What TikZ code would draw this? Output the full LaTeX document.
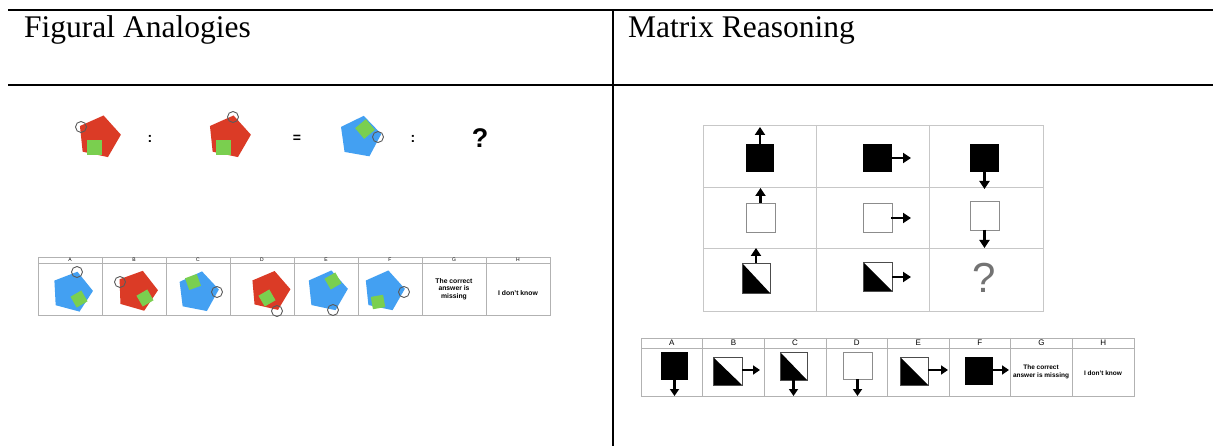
\documentclass[tikz,border=0pt]{standalone}
\usepackage{fontspec}
\setmainfont{Liberation Serif}
\setsansfont{Liberation Sans}
\usetikzlibrary{calc,arrows.meta}
\definecolor{pred}{HTML}{DB3B26}
\definecolor{pblue}{HTML}{43A0F2}
\definecolor{pgreen}{HTML}{7ACF4F}
\definecolor{ringc}{HTML}{5A5A5A}
\tikzset{
  rule/.style={line width=2pt, black},
  mgrid/.style={draw=black!22, line width=0.9pt},
  sgrid/.style={draw=black!30, line width=0.7pt},
  arr/.style={line width=2.3pt, -{Triangle[width=10pt,length=8pt]}},
  sarr/.style={line width=2.2pt, -{Triangle[width=9pt,length=7pt]}},
  blk/.style={fill=black},
  wht/.style={draw=black!45, line width=0.9pt, fill=white},
  dia/.style={draw=black!70, line width=0.8pt},
  ring/.style={draw=ringc, line width=0.9pt},
  hdr/.style={anchor=base west, inner sep=0pt, font=\fontsize{31.5}{36}\selectfont},
  lab/.style={inner sep=0pt, font=\sffamily\fontsize{5}{6}\selectfont},
  rlab/.style={inner sep=0pt, font=\sffamily\fontsize{8}{9}\selectfont},
  opt/.style={inner sep=0pt, align=center, font=\sffamily\bfseries\fontsize{6.8}{7.6}\selectfont},
  ropt/.style={inner sep=0pt, align=center, font=\sffamily\bfseries\fontsize{6.5}{7.4}\selectfont},
  sym/.style={inner sep=0pt, font=\sffamily\bfseries\fontsize{14}{16}\selectfont},
}
\newcommand\pent[5]{%
  \fill[#4] ($(#1,#2)+(-#3:#5)$) -- ($(#1,#2)+(-#3-72:#5)$) -- ($(#1,#2)+(-#3-144:#5)$)
    -- ($(#1,#2)+(-#3-216:#5)$) -- ($(#1,#2)+(-#3-288:#5)$) -- cycle;}
\newcommand\sqg[4]{%
  \fill[pgreen, rotate around={#3:(#1,#2)}] (#1-#4/2,#2-#4/2) rectangle (#1+#4/2,#2+#4/2);}
\newcommand\ringat[2]{\draw[ring] (#1,#2) circle (5.5);}
\newcommand\diagsq[4]{\fill[black] (#1,#2) -- (#1,#4) -- (#3,#4) -- cycle;
  \draw[dia] (#1,#2) rectangle (#3,#4);}
\begin{document}
\begin{tikzpicture}[x=1pt,y=-1pt]
\useasboundingbox (0,0) rectangle (1213,446);
% table rules
\draw[rule] (8,10) -- (1213,10);
\draw[rule] (8,85) -- (1213,85);
\draw[rule] (613,10) -- (613,446);
\node[hdr] (h1) at (24,38) {Figural Analogies};
\node[hdr] (h2) at (628,38) {Matrix Reasoning};

% ---- Figural analogies: item
\pent{99}{137}{78}{pred}{22}\sqg{94.5}{148}{0}{15}\ringat{81}{127}
\node[sym] (c1) at (150,139) {:};
\pent{229}{137}{78}{pred}{22}\sqg{223.5}{147.5}{0}{15}\ringat{233}{117}
\node[sym] (eq) at (297,139) {=};
\pent{360}{137}{80}{pblue}{21.5}\sqg{365}{129}{40}{14}\ringat{378}{137}
\node[sym] (c2) at (413,139) {:};
\node[inner sep=0pt, font=\sffamily\bfseries\fontsize{27}{30}\selectfont] (q1) at (480,138) {?};

% ---- Figural analogies: answer strip
\draw[sgrid] (38,257) rectangle (550,315);
\draw[sgrid] (38,263) -- (550,263);
\foreach \i in {1,...,7} \draw[sgrid] (38+64*\i,257) -- (38+64*\i,315);
\foreach \l [count=\i from 0] in {A,B,C,D,E,F,G,H}
  \node[lab] (la\l) at (70+64*\i,260) {\l};
\pent{72}{292}{75}{pblue}{21}\sqg{79}{299}{30}{12.5}\ringat{77}{272}
\pent{137}{291}{74}{pred}{21}\sqg{145}{298}{30}{12.5}\ringat{120}{282}
\pent{198}{292}{79}{pblue}{21}\sqg{193}{282}{20}{12.5}\ringat{217}{292}
\pent{270}{291}{77}{pred}{20.5}\sqg{267}{298}{30}{12.5}\ringat{277}{311}
\pent{327}{291}{78}{pblue}{21}\sqg{333}{281}{30}{12.5}\ringat{333}{310}
\pent{384}{291}{78}{pblue}{21}\sqg{378}{302}{10}{12.5}\ringat{404}{292}
\node[opt] (lg) at (454,289) {The correct\\answer is\\missing};
\node[opt] (lh) at (518,293) {I don't know};

% ---- Matrix reasoning: matrix
\draw[mgrid] (703,125) rectangle (1043,311);
\draw[mgrid] (816,125) -- (816,311);
\draw[mgrid] (929,125) -- (929,311);
\draw[mgrid] (703,187) -- (1043,187);
\draw[mgrid] (703,248) -- (1043,248);
% row 1
\fill[blk] (746,144) rectangle (774,172);
\draw[arr] (760,144) -- (760,127);
\fill[blk] (863,144) rectangle (892,172);
\draw[arr] (892,158) -- (911,158);
\fill[blk] (970,144) rectangle (999,172);
\draw[arr] (984.5,172) -- (984.5,189);
% row 2
\draw[wht] (746,203) rectangle (775,232);
\draw[arr] (760.5,203) -- (760.5,188);
\draw[wht] (863,203) rectangle (892,232);
\draw[arr] (891,218) -- (911,218);
\draw[wht] (970,201) rectangle (999,230);
\draw[arr] (984.5,230) -- (984.5,248);
% row 3
\diagsq{742}{263}{770}{293}
\draw[arr] (756,263) -- (756,248);
\diagsq{863}{262}{892}{291}
\draw[arr] (892,277) -- (911,277);
\node[inner sep=0pt, text=black!55, font=\sffamily\fontsize{42}{46}\selectfont] (q2) at (984,278) {?};

% ---- Matrix reasoning: answer strip
\draw[sgrid] (641,338) rectangle (1134,396);
\draw[sgrid] (641,348) -- (1134,348);
\foreach \i in {1,...,7} \draw[sgrid] (641+61.625*\i,338) -- (641+61.625*\i,396);
\foreach \l [count=\i from 0] in {A,B,C,D,E,F,G,H}
  \node[rlab] (ra\l) at (671.8+61.625*\i,343) {\l};
\fill[blk] (661,352) rectangle (688,380);
\draw[sarr] (674.5,380) -- (674.5,396);
\diagsq{713}{357}{742}{385}
\draw[sarr] (742,370) -- (760,370);
\diagsq{780}{352}{807}{380}
\draw[sarr] (793.5,380) -- (793.5,396);
\draw[wht] (843,352) rectangle (872,379);
\draw[sarr] (857.5,379) -- (857.5,396);
\diagsq{900}{357}{928}{385}
\draw[sarr] (928,370) -- (948,370);
\fill[blk] (965,357) rectangle (993,385);
\draw[sarr] (993,370) -- (1009,370);
\node[ropt] (rg) at (1041,372) {The correct\\answer is missing};
\node[ropt] (rh) at (1103,373) {I don't know};
\end{tikzpicture}
\end{document}
